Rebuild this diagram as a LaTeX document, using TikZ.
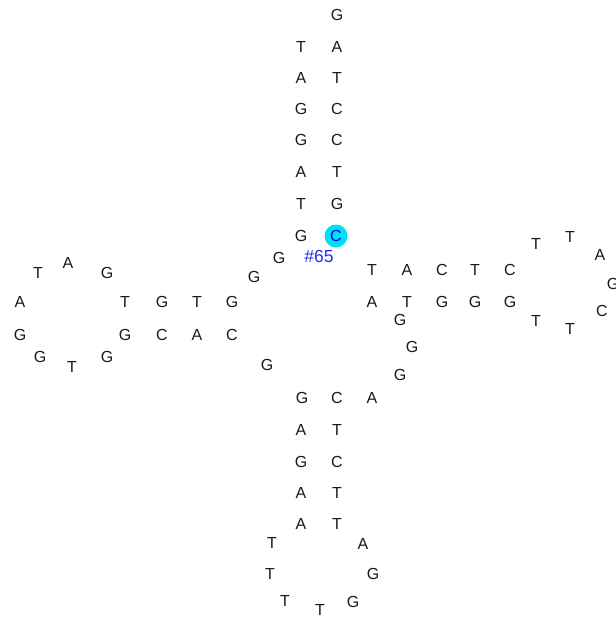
\documentclass[tikz,border=0pt]{standalone}
\usepackage{fontspec}
\setmainfont{Liberation Sans}
\definecolor{hicyan}{RGB}{0,225,245}
\definecolor{lblblue}{RGB}{40,40,240}
\begin{document}
\begin{tikzpicture}[x=1pt,y=-1pt,
  base/.style={font=\fontsize{16}{16}\selectfont, inner sep=0pt, text=black!90},
  hilite/.style={circle, fill=hicyan, minimum size=23pt, inner sep=0pt},
  lbl/.style={font=\fontsize{17.5}{17.5}\selectfont, inner sep=0pt, text=lblblue}]
\useasboundingbox (0,0) rectangle (616,622);
\fill[white] (0,0) rectangle (616,622);
% highlight
\node[hilite] (hl) at (336,236) {};
% top stem
\foreach \n/\x/\y/\t in {
  t1/337/15/G,
  t2/301/47/T, t3/337/47/A,
  t4/301/78/A, t5/337/78/T,
  t6/301/109/G, t7/337/109/C,
  t8/301/140/G, t9/337/140/C,
  t10/301/172/A, t11/337/172/T,
  t12/301/204/T, t13/337/204/G,
  t14/301/236/G}
  \node[base] (\n) at (\x,\y) {\t};
\node[base, text=blue] (t15) at (336,236) {C};
\node[lbl] (num) at (319,256) {\#65};
% left arm
\foreach \n/\x/\y/\t in {
  l1/279/258/G, l2/254/277/G,
  l3/232/302/G, l4/197/302/T, l5/162/302/G, l6/125/302/T,
  l7/107/273/G, l8/68/263/A, l9/38/273/T, l10/20/302/A,
  l11/20/335/G, l12/40/357/G, l13/72/367/T, l14/107/357/G,
  l15/125/335/G, l16/162/335/C, l17/197/335/A, l18/232/335/C,
  l19/267/365/G}
  \node[base] (\n) at (\x,\y) {\t};
% right arm
\foreach \n/\x/\y/\t in {
  r1/372/270/T, r2/407/270/A, r3/442/270/C, r4/475/270/T, r5/510/270/C,
  r6/536/244/T, r7/570/237/T, r8/600/255/A, r9/613/284/G,
  r10/602/311/C, r11/570/329/T, r12/536/321/T,
  r13/510/302/G, r14/475/302/G, r15/442/302/G, r16/407/302/T, r17/372/302/A,
  r18/400/320/G, r19/412/347/G, r20/400/375/G}
  \node[base] (\n) at (\x,\y) {\t};
% bottom stem
\foreach \n/\x/\y/\t in {
  b1/372/398/A, b2/337/398/C, b3/302/398/G,
  b4/301/430/A, b5/337/430/T,
  b6/301/462/G, b7/337/462/C,
  b8/301/493/A, b9/337/493/T,
  b10/301/524/A, b11/337/524/T,
  b12/272/543/T, b13/363/544/A, b14/270/574/T, b15/373/574/G,
  b16/285/601/T, b17/320/610/T, b18/353/602/G}
  \node[base] (\n) at (\x,\y) {\t};
\end{tikzpicture}
\end{document}
